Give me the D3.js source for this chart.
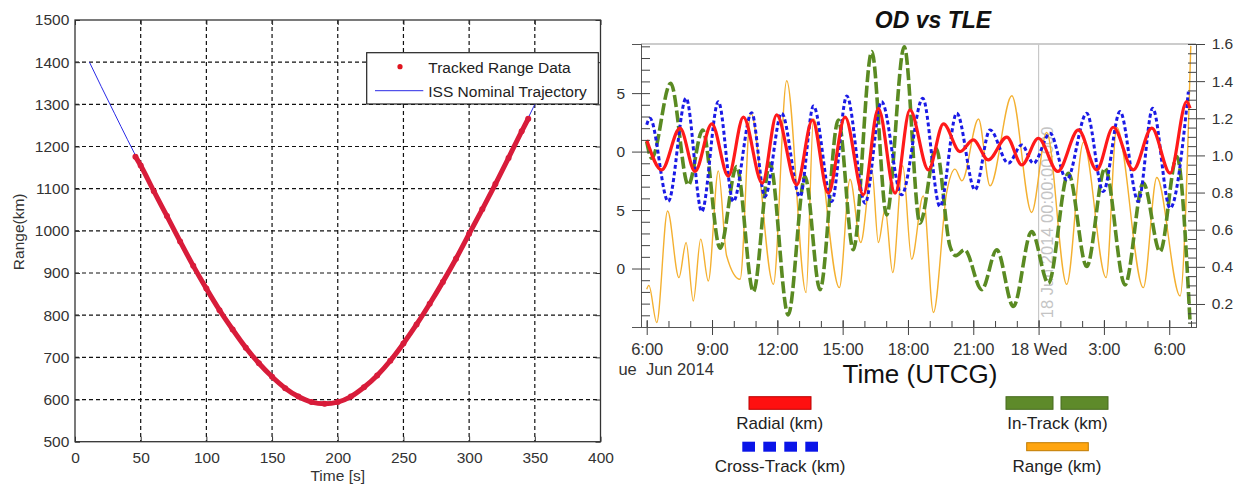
<!DOCTYPE html>
<html>
<head>
  <meta charset="utf-8">
  <script src="https://d3js.org/d3.v7.min.js"></script>
  <style>
    body { margin: 0; background: #fff; }
    svg text { font-family: "Liberation Sans", Arial, sans-serif; }
  </style>
</head>
<body>
<script>
// ---------- Left chart data (range vs time) ----------
var nomTime  = [11, 20, 30, 40, 50, 60, 70, 80, 90, 100, 110, 120, 130, 140, 150, 160, 170, 180, 190,
                200, 210, 220, 230, 240, 250, 260, 270, 280, 290, 300, 310, 320, 330, 340, 350, 353];
var nomRange = [1400, 1342, 1279, 1216, 1155, 1094, 1035, 975, 917, 863, 812, 766, 723, 686, 654, 627, 607, 594, 590,
                594, 607, 629, 657, 692, 733, 778, 827, 879, 934, 993, 1051, 1111, 1173, 1236, 1300, 1319];
var trkTime  = [46, 50, 60, 70, 80, 90, 100, 110, 120, 130, 140, 150, 160, 170, 180, 190,
                200, 210, 220, 230, 240, 250, 260, 270, 280, 290, 300, 310, 320, 330, 340, 345];
var trkRange = [1176, 1155, 1094, 1035, 975, 917, 863, 812, 766, 723, 686, 654, 627, 607, 594, 590,
                594, 607, 629, 657, 692, 733, 778, 827, 879, 934, 993, 1051, 1111, 1173, 1236, 1266];
var leftXTicks = [0, 50, 100, 150, 200, 250, 300, 350, 400];
var leftYTicks = [500, 600, 700, 800, 900, 1000, 1100, 1200, 1300, 1400, 1500];
var leftLegend = ["Tracked Range Data", "ISS Nominal Trajectory"];

// ---------- Right chart data (OD vs TLE), time = hours after 17 Jun 2014 00:00 UTCG ----------
var radialT = [6.0, 6.69, 7.53, 8.22, 8.99, 9.75, 10.44, 11.31, 11.97, 12.89, 13.61, 14.34, 15.11, 15.95,
               16.64, 17.41, 18.09, 18.94, 19.63, 20.39, 21.0, 21.69, 22.54, 23.23, 23.99, 24.88, 25.83,
               26.67, 27.43, 28.35, 29.2, 30.04, 30.8, 30.96];
var radialV = [1.0, -1.56, 2.0, -1.7, 2.37, -2.1, 2.94, -2.7, 3.14, -2.85, 2.7, -3.56, 2.94, -3.7,
               3.7, -3.56, 3.56, -1.56, 2.37, 0.0, 1.0, -0.71, 1.23, -1.14, 1.14, -1.7, 1.85,
               -1.56, 2.08, -1.56, 2.0, -1.85, 4.27, 3.7];
var crossT = [6.0, 6.15, 6.99, 7.81, 8.53, 9.29, 9.98, 10.82, 11.43, 12.2, 13.04, 13.66, 14.5, 15.19,
              16.03, 16.79, 17.71, 18.68, 19.47, 20.24, 21.08, 21.77, 22.61, 23.23, 23.76, 24.53,
              25.29, 26.21, 26.97, 27.74, 28.58, 29.24, 30.04, 30.88];
var crossV = [2.3, 2.85, -4.27, 4.56, -5.13, 4.27, -4.27, 3.33, -3.85, 3.28, -3.85, 3.9, -4.27, 4.76,
              -4.41, 4.27, -3.7, 4.56, -4.7, 3.28, -3.27, 1.85, -1.0, 0.57, -1.0, 1.57,
              -2.42, 3.28, -3.42, 3.42, -4.27, 3.7, -4.84, 5.13];
var inTrackT = [6.0, 6.23, 7.1, 7.91, 8.57, 9.37, 10.13, 10.9, 11.66, 12.5, 13.27, 13.96, 14.8, 15.49,
                16.34, 17.02, 17.83, 18.55, 19.29, 19.93, 20.2, 20.6, 21.39, 22.08, 22.84, 23.68,
                24.45, 25.37, 26.21, 27.05, 27.97, 28.81, 29.58, 30.35, 30.96];
var inTrackV = [0.85, -0.56, 5.85, -2.85, 1.85, -8.26, -1.28, -11.97, -1.0, -13.96, -2.14, -11.8, 2.7, -8.4,
                8.55, -5.41, 8.97, -6.12, 0.29, -8.1, -8.9, -8.4, -11.8, -8.4, -13.25, -6.84,
                -11.25, -1.85, -9.83, -1.42, -11.4, -2.7, -8.55, -0.43, -14.7];
var rangeT = [6.0, 6.1, 6.46, 6.96, 7.48, 7.81, 8.14, 8.48, 8.83, 9.29, 9.67, 10.29, 10.78, 11.82,
              12.43, 13.32, 13.66, 14.85, 15.34, 15.83, 16.34, 16.64, 16.95, 17.3, 17.76, 18.17,
              18.7, 19.17, 19.78, 20.16, 20.48, 21.24, 21.77, 22.77, 23.68, 24.37, 25.29, 26.06,
              27.1, 27.59, 28.81, 29.43, 30.5, 30.99];
var rangeV = [0.279, 0.30, 0.10, 0.701, 0.342, 0.531, 0.216, 0.549, 0.324, 0.917, 0.46, 0.333, 1.231, 0.306,
              1.402, 0.261, 1.196, 0.288, 0.872, 0.531, 0.926, 0.531, 0.711, 0.369, 0.944, 0.441,
              0.782, 0.154, 0.801, 0.926, 0.863, 1.196, 0.836, 1.321, 0.693, 1.124, 0.306, 1.07,
              0.342, 1.151, 0.288, 0.881, 0.243, 1.59];
var kmTicks = [-10, -5, 0, 5];
var rangeTicks = [0.2, 0.4, 0.6, 0.8, 1.0, 1.2, 1.4, 1.6];
var hourTicks = [6, 9, 12, 15, 18, 21, 24, 27, 30];
var rightLegend = ["Radial (km)", "Cross-Track (km)", "In-Track (km)", "Range (km)"];

var svg = d3.select("body").append("svg")
  .attr("width", 1242)
  .attr("height", 487);
var defs = svg.append("defs");

// ================= LEFT CHART =================
var x = d3.scaleLinear().domain([0, 400]).range([75, 600.5]);
var y = d3.scaleLinear().domain([500, 1500]).range([441.7, 20]);

defs.append("clipPath").attr("id", "clipL")
  .append("rect").attr("x", 75).attr("y", 20).attr("width", 525.5).attr("height", 421.7);

var left = svg.append("g");

// dashed grid
left.selectAll("line.gx")
  .data(leftXTicks.slice(1, -1))
  .enter().append("line")
  .attr("x1", function(d) { return x(d); })
  .attr("x2", function(d) { return x(d); })
  .attr("y1", y(1500)).attr("y2", y(500))
  .attr("stroke", "#111").attr("stroke-width", 1.2).attr("stroke-dasharray", "4,3");
left.selectAll("line.gy")
  .data(leftYTicks.slice(1, -1))
  .enter().append("line")
  .attr("y1", function(d) { return y(d); })
  .attr("y2", function(d) { return y(d); })
  .attr("x1", x(0)).attr("x2", x(400))
  .attr("stroke", "#111").attr("stroke-width", 1.2).attr("stroke-dasharray", "4,3");

// curves
var plotL = left.append("g").attr("clip-path", "url(#clipL)");
var lineL = d3.line()
  .x(function(d) { return x(d[0]); })
  .y(function(d) { return y(d[1]); })
  .curve(d3.curveMonotoneX);
plotL.append("path")
  .attr("d", lineL(d3.zip(nomTime, nomRange)))
  .attr("fill", "none").attr("stroke", "#2a2ae6").attr("stroke-width", 1);
plotL.append("path")
  .attr("d", lineL(d3.zip(trkTime, trkRange)))
  .attr("fill", "none").attr("stroke", "#d81c3a").attr("stroke-width", 5);
plotL.selectAll("circle")
  .data(d3.zip(trkTime, trkRange))
  .enter().append("circle")
  .attr("cx", function(d) { return x(d[0]); })
  .attr("cy", function(d) { return y(d[1]); })
  .attr("r", 3).attr("fill", "#d81c3a");

// axes (MATLAB style: inward ticks on all sides)
function styleAxis(g, size) {
  g.select(".domain").remove();
  g.attr("font-family", "Liberation Sans, Arial, sans-serif").attr("font-size", size);
  g.selectAll("line").attr("stroke", "#333");
  g.selectAll("text").attr("fill", "#333");
}
left.append("g").attr("transform", "translate(0," + y(500) + ")")
  .call(d3.axisBottom(x).tickValues(leftXTicks).tickSizeInner(-5).tickSizeOuter(0).tickPadding(10)
    .tickFormat(d3.format("d")))
  .call(styleAxis, 15.5);
left.append("g").attr("transform", "translate(" + x(0) + ",0)")
  .call(d3.axisLeft(y).tickValues(leftYTicks).tickSizeInner(-5).tickSizeOuter(0).tickPadding(5.7)
    .tickFormat(d3.format("d")))
  .call(styleAxis, 15.5);
left.append("g").attr("transform", "translate(0," + y(1500) + ")")
  .call(d3.axisTop(x).tickValues(leftXTicks).tickSizeInner(-5).tickSizeOuter(0).tickFormat(""))
  .call(styleAxis, 15.5);
left.append("g").attr("transform", "translate(" + x(400) + ",0)")
  .call(d3.axisRight(y).tickValues(leftYTicks).tickSizeInner(-5).tickSizeOuter(0).tickFormat(""))
  .call(styleAxis, 15.5);

left.append("rect")
  .attr("x", x(0)).attr("y", y(1500))
  .attr("width", x(400) - x(0)).attr("height", y(500) - y(1500))
  .attr("fill", "none").attr("stroke", "#333").attr("stroke-width", 1.3);

left.append("text")
  .attr("x", (x(0) + x(400)) / 2).attr("y", 480.5)
  .attr("text-anchor", "middle").attr("font-size", 15.5).attr("fill", "#333")
  .text("Time [s]");
left.append("text")
  .attr("transform", "translate(23.5," + (y(1000) + 1) + ") rotate(-90)")
  .attr("text-anchor", "middle").attr("font-size", 15.5).attr("fill", "#333")
  .text("Range(km)");

// legend
var lg = left.append("g");
lg.append("rect")
  .attr("x", 366.7).attr("y", 52.7).attr("width", 231.6).attr("height", 51.3)
  .attr("fill", "#fff").attr("stroke", "#222").attr("stroke-width", 1.2);
lg.append("circle").attr("cx", 400).attr("cy", 66.7).attr("r", 2.6).attr("fill", "#e0141e");
lg.append("line").attr("x1", 375).attr("x2", 423.3).attr("y1", 90.7).attr("y2", 90.7)
  .attr("stroke", "#2a2ae6").attr("stroke-width", 1);
lg.selectAll("text")
  .data(leftLegend)
  .enter().append("text")
  .attr("x", 428.3)
  .attr("y", function(d, i) { return 73.3 + i * 24; })
  .attr("font-size", 15.5).attr("fill", "#222")
  .text(function(d) { return d; });

// ================= RIGHT CHART =================
function H(h) { return new Date(Date.UTC(2014, 5, 17) + h * 3600000); }
var xr = d3.scaleUtc().domain([H(5.738), H(31.23)]).range([641, 1196]);
var yl = d3.scaleLinear().domain([-15, 9.2]).range([327, 44]);
var yr = d3.scaleLinear().domain([0.076, 1.6]).range([327, 44]);

defs.append("clipPath").attr("id", "clipR")
  .append("rect").attr("x", 616).attr("y", 0).attr("width", 626).attr("height", 487);
defs.append("clipPath").attr("id", "clipP")
  .append("rect").attr("x", 641).attr("y", 44).attr("width", 555).attr("height", 283);

var right = svg.append("g").attr("clip-path", "url(#clipR)");

right.append("text")
  .attr("x", 933).attr("y", 28.3)
  .attr("text-anchor", "middle")
  .attr("font-size", 23).attr("font-weight", "bold").attr("font-style", "italic")
  .attr("fill", "#111")
  .text("OD vs TLE");

// frame
right.append("line").attr("x1", 641).attr("x2", 1196).attr("y1", 44).attr("y2", 44)
  .attr("stroke", "#999").attr("stroke-width", 1.2);

// midnight marker
right.append("line")
  .attr("x1", xr(H(24))).attr("x2", xr(H(24)))
  .attr("y1", 44).attr("y2", 327)
  .attr("stroke", "#c8c8c8").attr("stroke-width", 1.2);
right.append("text")
  .attr("transform", "translate(" + (xr(H(24)) + 14) + ",318.3) rotate(-90)")
  .attr("font-size", 16.5).attr("fill", "#c4c4c4")
  .text("18 Jun 2014 00:00:00.000");

// series
var plotR = right.append("g").attr("clip-path", "url(#clipP)");
var series = [
  { t: rangeT,   v: rangeV,   s: yr, color: "#f4b030", w: 1.4, dash: null },
  { t: inTrackT, v: inTrackV, s: yl, color: "#5a8a22", w: 3.6, dash: "12,3.5" },
  { t: crossT,   v: crossV,   s: yl, color: "#1a1ae6", w: 3,   dash: "4,2.7" },
  { t: radialT,  v: radialV,  s: yl, color: "#ff1a1a", w: 3.2, dash: null }
];
series.forEach(function(sr) {
  var ln = d3.line()
    .x(function(d) { return xr(H(d[0])); })
    .y(function(d) { return sr.s(d[1]); })
    .curve(d3.curveMonotoneX);
  plotR.append("path")
    .attr("d", ln(d3.zip(sr.t, sr.v)))
    .attr("fill", "none")
    .attr("stroke", sr.color)
    .attr("stroke-width", sr.w)
    .attr("stroke-dasharray", sr.dash);
});

function styleR(g, size) {
  g.attr("font-family", "Liberation Sans, Arial, sans-serif").attr("font-size", size);
  g.selectAll("line").attr("stroke", "#444");
  g.selectAll(".domain").attr("stroke", "#555");
  g.selectAll("text").attr("fill", "#333");
}

// left km axis
right.append("g").attr("transform", "translate(641,0)")
  .call(d3.axisLeft(yl).tickValues(kmTicks).tickSize(9).tickPadding(7).tickFormat(d3.format("")))
  .call(styleR, 15.5);
right.append("g").attr("transform", "translate(641,0)")
  .call(d3.axisRight(yl).tickValues(d3.range(-15, 10)).tickSize(9).tickSizeOuter(0).tickFormat(""))
  .call(styleR, 15.5);

// right range axis
right.append("g").attr("transform", "translate(1196,0)")
  .call(d3.axisRight(yr).tickValues(rangeTicks).tickSize(9).tickSizeOuter(0).tickPadding(6.7)
    .tickFormat(d3.format(".1f")))
  .call(styleR, 15.5);
right.append("g").attr("transform", "translate(1196,0)")
  .call(d3.axisLeft(yr).tickValues(d3.range(0.1, 1.601, 0.05)).tickSize(8).tickSizeOuter(0).tickFormat(""))
  .call(styleR, 15.5);

// time axis
var fmtDay = d3.utcFormat("%-d %a"), fmtHour = d3.utcFormat("%-H:%M");
right.append("g").attr("transform", "translate(0,327)")
  .call(d3.axisBottom(xr).tickValues(hourTicks.map(H)).tickSize(8).tickSizeOuter(0).tickPadding(8.3)
    .tickFormat(function(d) { return d.getUTCHours() === 0 ? fmtDay(d) : fmtHour(d); }))
  .call(styleR, 16.5);
right.append("g").attr("transform", "translate(0,327)")
  .call(d3.axisTop(xr).tickValues(d3.range(6, 32).map(H)).tickSize(6).tickSizeOuter(0).tickFormat(""))
  .call(styleR, 16.5);
right.append("g").attr("transform", "translate(0,327)")
  .call(d3.axisTop(xr).tickValues(hourTicks.map(H)).tickSize(7).tickSizeOuter(0).tickFormat(""))
  .call(styleR, 16.5);

right.append("text")
  .attr("x", 618.4).attr("y", 375)
  .attr("font-size", 16.5).attr("fill", "#333")
  .style("white-space", "pre")
  .text("ue  Jun 2014");
right.append("text")
  .attr("x", 920).attr("y", 383)
  .attr("text-anchor", "middle").attr("font-size", 26).attr("fill", "#111")
  .text("Time (UTCG)");

// legend
var lgR = right.append("g");
lgR.append("rect").attr("x", 749).attr("y", 396.7).attr("width", 62).attr("height", 12.6)
  .attr("fill", "#ff1010").attr("stroke", "#b00").attr("stroke-width", 1);
lgR.selectAll("rect.cross")
  .data([0, 1, 2, 3])
  .enter().append("rect")
  .attr("x", function(d) { return 742.3 + d * 21; })
  .attr("y", 441.7).attr("width", 12.7).attr("height", 10)
  .attr("fill", "#0a14e8");
lgR.selectAll("rect.intrack")
  .data([1006, 1061])
  .enter().append("rect")
  .attr("x", function(d) { return d; })
  .attr("y", 396.7).attr("width", 47).attr("height", 12.6)
  .attr("fill", "#5e8a2a").attr("stroke", "#476b1e").attr("stroke-width", 1);
lgR.append("rect").attr("x", 1026.7).attr("y", 442.7).attr("width", 61.6).attr("height", 8)
  .attr("fill", "#ffa510").attr("stroke", "#c07a00").attr("stroke-width", 1);
var legPos = [[779.7, 429.3], [780, 471.7], [1057.5, 429.3], [1057, 471.7]];
lgR.selectAll("text")
  .data(rightLegend)
  .enter().append("text")
  .attr("x", function(d, i) { return legPos[i][0]; })
  .attr("y", function(d, i) { return legPos[i][1]; })
  .attr("text-anchor", "middle").attr("font-size", 17).attr("fill", "#222")
  .text(function(d) { return d; });
</script>
</body>
</html>
